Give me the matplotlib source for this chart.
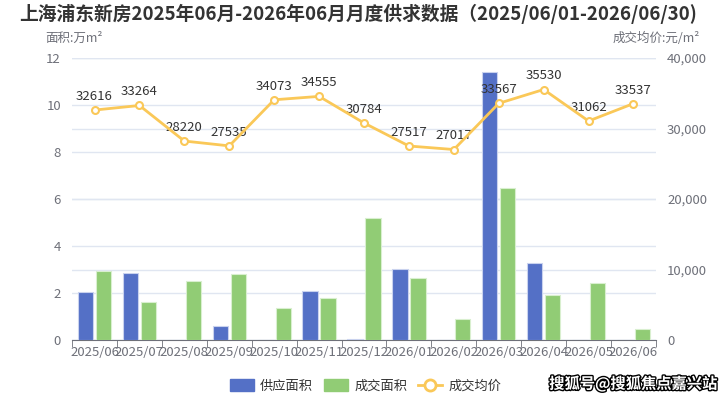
import numpy as np
import matplotlib
matplotlib.use('Agg')
import matplotlib.pyplot as plt
import matplotlib.patheffects as pe

plt.rcParams['font.family'] = ['Noto Sans CJK SC', 'DejaVu Sans']

# Data
months = ['2025/06', '2025/07', '2025/08', '2025/09', '2025/10', '2025/11', '2025/12',
          '2026/01', '2026/02', '2026/03', '2026/04', '2026/05', '2026/06']
supply = [2.04, 2.85, 0, 0.6, 0.02, 2.1, 0.03, 3.02, 0, 11.4, 3.28, 0, 0]
deal = [2.94, 1.62, 2.51, 2.81, 1.36, 1.79, 5.19, 2.64, 0.89, 6.47, 1.91, 2.43, 0.47]
price = [32616, 33264, 28220, 27535, 34073, 34555, 30784, 27517, 27017, 33567, 35530, 31062, 33537]

blue = '#5470c6'
green = '#91cc75'
yellow = '#fac858'
grey = '#6e7079'

fig = plt.figure(figsize=(7.28, 4.0), dpi=100)
ax = fig.add_axes([0.099, 0.15, 0.802, 0.705])
ax2 = ax.twinx()

x = np.arange(len(months))

# grid lines for both axes, drawn behind the bars
for v in range(0, 13, 2):
    ax.axhline(v, color='#e0e6f1', linewidth=1, zorder=0)
for v in range(0, 40001, 10000):
    ax.axhline(v * 12 / 40000, color='#e0e6f1', linewidth=1, zorder=0)

ax.bar(x - 0.2, supply, width=0.34, color=blue, edgecolor='#c9d2ee', linewidth=0.8, zorder=3)
ax.bar(x + 0.2, deal, width=0.34, color=green, edgecolor='#d9efcf', linewidth=0.8, zorder=3)

ax.set_ylim(0, 12)
ax.set_yticks(range(0, 13, 2))
ax.set_xlim(-0.5, len(months) - 0.5)
ax2.set_ylim(0, 40000)
ax2.set_yticks(range(0, 40001, 10000))
ax2.set_yticklabels(['0', '10,000', '20,000', '30,000', '40,000'])

ax2.plot(x, price, color=yellow, linewidth=2, marker='o', markersize=5,
         markerfacecolor='white', markeredgecolor=yellow, markeredgewidth=1.5, zorder=5)
for xi, p in zip(x, price):
    ax2.text(xi, p + 1000, str(p), ha='center', va='bottom', fontsize=9.5, color='#333333')

ax.set_xticks(x)
ax.set_xticklabels(months, fontsize=9.5, color=grey)
ax.set_xticks(np.arange(-0.5, len(months), 1), minor=True)
ax.tick_params(axis='x', which='major', length=0, pad=4)
ax.tick_params(axis='x', which='minor', length=5, color=grey)
ax.tick_params(axis='y', length=0, labelsize=9.5, labelcolor=grey, pad=8)
ax2.tick_params(axis='y', length=0, labelsize=9.5, labelcolor=grey, pad=8)

for a in (ax, ax2):
    for s in ['top', 'left', 'right', 'bottom']:
        a.spines[s].set_visible(False)
ax.spines['bottom'].set_visible(True)
ax.spines['bottom'].set_color(grey)

fig.text(0.027, 0.965, '上海浦东新房2025年06月-2026年06月月度供求数据（2025/06/01-2026/06/30)',
         fontsize=13.5, fontweight='heavy', color='#333333', ha='left', va='center')
fig.text(0.062, 0.905, '面积:万m²', fontsize=9, color=grey, ha='left', va='center')
fig.text(0.962, 0.905, '成交均价:元/m²', fontsize=9, color=grey, ha='right', va='center')

h1 = plt.Rectangle((0, 0), 1, 1, color=blue)
h2 = plt.Rectangle((0, 0), 1, 1, color=green)
h3, = ax.plot([], [], color=yellow, linewidth=2, marker='o', markersize=8,
              markerfacecolor='white', markeredgecolor=yellow, markeredgewidth=2)
fig.legend([h1, h2, h3], ['供应面积', '成交面积', '成交均价'], loc='center', ncol=3,
           bbox_to_anchor=(0.502, 0.035), frameon=False, fontsize=9.5,
           handlelength=1.85, handleheight=1.0, handletextpad=0.45,
           columnspacing=0.8, labelcolor='#333333')

fig.text(0.985, 0.04, '搜狐号@搜狐焦点嘉兴站', fontsize=11, fontweight='bold', color='white',
         ha='right', va='center',
         path_effects=[pe.withStroke(linewidth=2, foreground='black')])

fig.savefig('out.png', dpi=100)
